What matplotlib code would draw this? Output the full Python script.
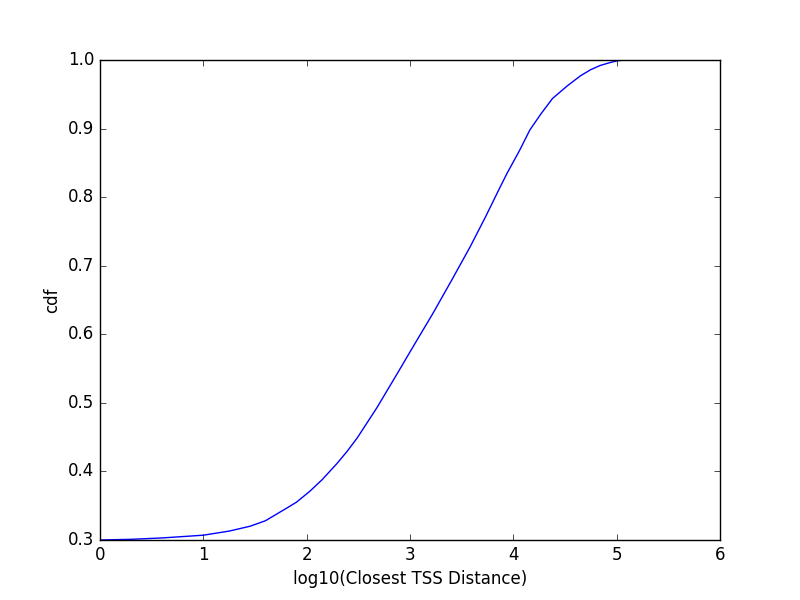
import matplotlib
matplotlib.use('Agg')
import matplotlib.pyplot as plt

# values
log_dist = [0.0, 0.3, 0.6, 1.0, 1.25, 1.45, 1.6, 1.79, 1.9, 2.03, 2.15, 2.29,
            2.39, 2.49, 2.68, 2.87, 3.05, 3.22, 3.4, 3.58, 3.73, 3.87, 3.94,
            4.06, 4.16, 4.27, 4.38, 4.52, 4.65, 4.75, 4.84, 4.93, 5.01, 5.1, 5.2]
cdf = [0.300, 0.301, 0.303, 0.307, 0.313, 0.320, 0.328, 0.345, 0.355, 0.371,
       0.388, 0.411, 0.429, 0.449, 0.493, 0.541, 0.587, 0.630, 0.678, 0.727,
       0.771, 0.814, 0.835, 0.868, 0.898, 0.922, 0.944, 0.962, 0.977, 0.986,
       0.992, 0.996, 0.999, 1.000, 1.000]

plt.style.use('classic')
fig = plt.figure(figsize=(8, 6), facecolor='white')
ax = fig.add_subplot(111)
ax.plot(log_dist, cdf, color='b')
ax.set_xlim(0, 6)
ax.set_ylim(0.3, 1.0)
ax.set_xlabel('log10(Closest TSS Distance)')
ax.set_ylabel('cdf')
fig.savefig('out.png', dpi=100, facecolor='white')
